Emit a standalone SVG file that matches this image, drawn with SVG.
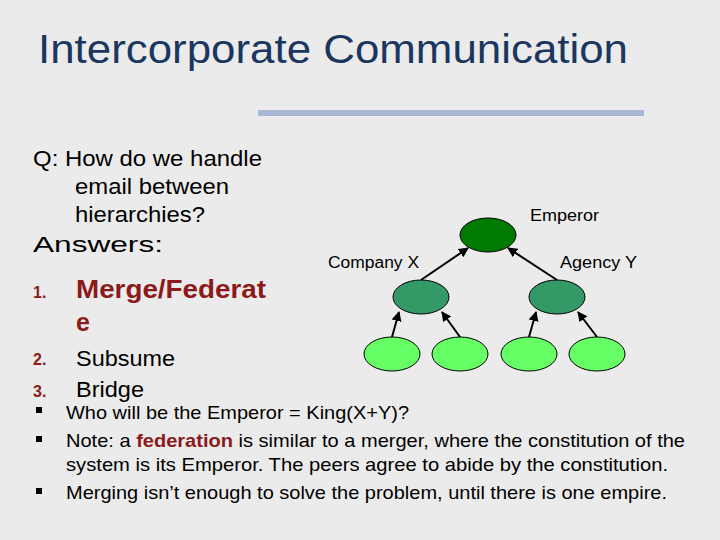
<svg xmlns="http://www.w3.org/2000/svg" width="720" height="540" viewBox="0 0 720 540">
<defs>
<marker id="ah" viewBox="0 0 10 10" refX="9" refY="5" markerWidth="5" markerHeight="5" orient="auto"><path d="M0,0 L10,5 L0,10 z" fill="#000"/></marker>
<style>
text{font-family:"Liberation Sans",Arial,sans-serif;fill:#000}
.t{font-size:22px}
.lbl{font-size:16px}
.num{font-size:16px;font-weight:bold;fill:#8b1a1a}
.b{font-size:19px}
.e{stroke:#000;stroke-width:1}
.c line{stroke:#000;stroke-width:2;marker-end:url(#ah)}
</style>
</defs>
<rect width="720" height="540" fill="#ebebeb"/>
<text x="38" y="63" textLength="590" lengthAdjust="spacingAndGlyphs" style="font-size:40px;fill:#1b365f">Intercorporate Communication</text>
<rect x="258" y="110" width="386" height="6" fill="#a7b7d6"/>
<text class="t" x="33" y="166" textLength="229" lengthAdjust="spacingAndGlyphs">Q: How do we handle</text>
<text class="t" x="75" y="194" textLength="154" lengthAdjust="spacingAndGlyphs">email between</text>
<text class="t" x="75" y="222" textLength="130" lengthAdjust="spacingAndGlyphs">hierarchies?</text>
<text class="t" x="33" y="252" textLength="130" lengthAdjust="spacingAndGlyphs">Answers:</text>
<text class="num" x="33" y="298">1.</text>
<text x="76" y="298" textLength="190" lengthAdjust="spacingAndGlyphs" style="font-size:25px;font-weight:bold;fill:#8b1a1a">Merge/Federat</text>
<text x="76" y="331" style="font-size:25px;font-weight:bold;fill:#8b1a1a">e</text>
<text class="num" x="33" y="365">2.</text>
<text class="t" x="76" y="366" textLength="99" lengthAdjust="spacingAndGlyphs">Subsume</text>
<text class="num" x="33" y="397">3.</text>
<text class="t" x="76" y="397" textLength="68" lengthAdjust="spacingAndGlyphs">Bridge</text>
<g fill="#000"><rect x="36" y="407" width="6" height="6"/><rect x="36" y="436" width="6" height="6"/><rect x="36" y="488" width="6" height="6"/></g>
<text class="b" x="66" y="419" textLength="343" lengthAdjust="spacingAndGlyphs">Who will be the Emperor = King(X+Y)?</text>
<text class="b" x="66" y="447" textLength="619" lengthAdjust="spacingAndGlyphs">Note: a <tspan style="font-weight:bold;fill:#8b1a1a">federation</tspan> is similar to a merger, where the constitution of the</text>
<text class="b" x="66" y="471" textLength="602" lengthAdjust="spacingAndGlyphs">system is its Emperor.  The peers agree to abide by the constitution.</text>
<text class="b" x="66" y="499" textLength="601" lengthAdjust="spacingAndGlyphs">Merging isn’t enough to solve the problem, until there is one empire.</text>
<g class="c">
<line x1="392" y1="337" x2="399" y2="312"/>
<line x1="460" y1="337" x2="442" y2="312"/>
<line x1="529" y1="337" x2="536" y2="312"/>
<line x1="597" y1="337" x2="578" y2="312"/>
<line x1="421" y1="280" x2="468" y2="248"/>
<line x1="557" y1="280" x2="508" y2="248"/>
</g>
<g id="emperor"><ellipse class="e" cx="488" cy="235" rx="28" ry="17" fill="#007a00"/><text class="lbl" x="530" y="221" textLength="69" lengthAdjust="spacingAndGlyphs">Emperor</text></g>
<g id="companyX"><ellipse class="e" cx="421" cy="297" rx="28" ry="17" fill="#339966"/><text class="lbl" x="328" y="268" textLength="91" lengthAdjust="spacingAndGlyphs">Company X</text></g>
<g id="agencyY"><ellipse class="e" cx="557" cy="297" rx="28" ry="17" fill="#339966"/><text class="lbl" x="560" y="268" textLength="77" lengthAdjust="spacingAndGlyphs">Agency Y</text></g>
<g id="leaf1"><ellipse class="e" cx="392" cy="354" rx="28" ry="17" fill="#66ff66"/></g>
<g id="leaf2"><ellipse class="e" cx="460" cy="354" rx="28" ry="17" fill="#66ff66"/></g>
<g id="leaf3"><ellipse class="e" cx="529" cy="354" rx="28" ry="17" fill="#66ff66"/></g>
<g id="leaf4"><ellipse class="e" cx="597" cy="354" rx="28" ry="17" fill="#66ff66"/></g>
</svg>
